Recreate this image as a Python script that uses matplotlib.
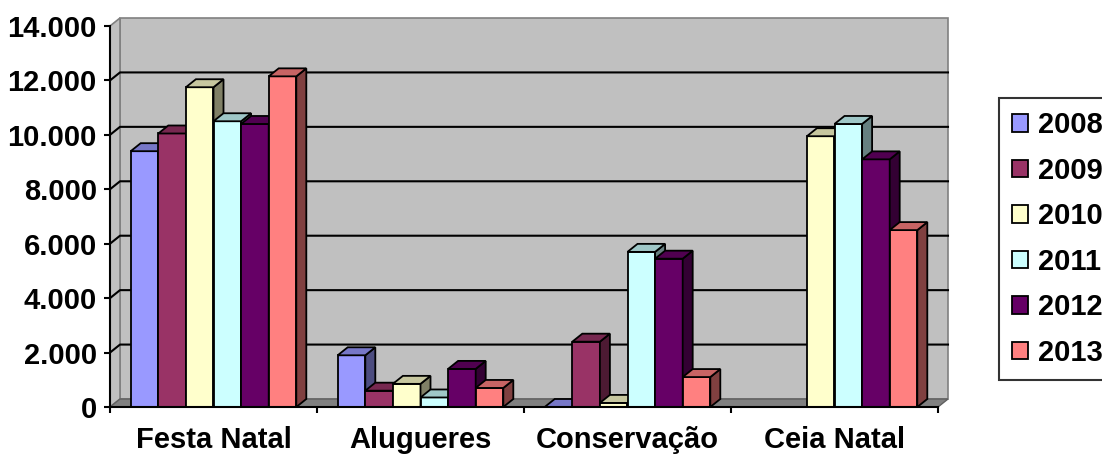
import numpy as np
import matplotlib
matplotlib.use("Agg")
from matplotlib import pyplot as plt
from matplotlib.patches import Polygon, Patch
from matplotlib.ticker import FuncFormatter, FixedLocator

plt.rcParams['font.family'] = ['Liberation Sans', 'DejaVu Sans']
plt.rcParams['font.weight'] = 'bold'

categories = ['Festa Natal', 'Alugueres', 'Conservação', 'Ceia Natal']
years = ['2008', '2009', '2010', '2011', '2012', '2013']
v2008 = [9400, 1900, 0, np.nan]
v2009 = [10050, 600, 2400, np.nan]
v2010 = [11750, 850, 150, 9950]
v2011 = [10500, 350, 5700, 10400]
v2012 = [10400, 1400, 5450, 9100]
v2013 = [12150, 700, 1100, 6500]
series = [v2008, v2009, v2010, v2011, v2012, v2013]
colors = ['#9999FF', '#993366', '#FFFFCC', '#CCFFFF', '#660066', '#FF8080']
y_ticks = list(range(0, 14001, 2000))

W, H = 1102, 454
fig = plt.figure(figsize=(W / 100, H / 100), dpi=100)
ax = fig.add_axes([110 / W, 47 / H, 828 / W, 381 / H])
ax.set_xlim(0, 4)
ax.set_ylim(0, 14000)
ax.patch.set_visible(False)

# 3d depth offset in data units
DX = 10 / 828 * 4
DY = 8 / 381 * 14000


def shade(c, f):
    rgb = np.array(matplotlib.colors.to_rgb(c)) * f
    return tuple(rgb)


# walls and floor
ax.add_patch(Polygon([(DX, DY), (4 + DX, DY), (4 + DX, 14000 + DY), (DX, 14000 + DY)],
                     closed=True, fc='#C0C0C0', ec='#808080', lw=1.2, clip_on=False, zorder=0.5))
ax.add_patch(Polygon([(0, 0), (DX, DY), (DX, 14000 + DY), (0, 14000)],
                     closed=True, fc='#C0C0C0', ec='#808080', lw=1.2, clip_on=False, zorder=0.6))
ax.add_patch(Polygon([(0, 0), (4, 0), (4 + DX, DY), (DX, DY)],
                     closed=True, fc='#808080', ec='#606060', lw=1.0, clip_on=False, zorder=0.7))
for v in y_ticks[1:-1]:
    ax.plot([0, DX, 4 + DX], [v, v + DY, v + DY], color='black', lw=1.5,
            clip_on=False, zorder=0.8)

# bars
bw = 0.8 / 6
x = np.arange(4) + 0.5
z = 2
for j, (vals, col) in enumerate(zip(series, colors)):
    vals = np.array(vals, dtype=float)
    ok = ~np.isnan(vals)
    bars = ax.bar(x[ok] + (j - 2.5) * bw, vals[ok], width=bw, color=col,
                  edgecolor='black', linewidth=1.3, zorder=z + j * 3, clip_on=False)
    for b in bars:
        x0, w, h = b.get_x(), b.get_width(), b.get_height()
        top = [(x0, h), (x0 + w, h), (x0 + w + DX, h + DY), (x0 + DX, h + DY)]
        side = [(x0 + w, 0), (x0 + w + DX, DY), (x0 + w + DX, h + DY), (x0 + w, h)]
        ax.add_patch(Polygon(side, closed=True, fc=shade(col, 0.5), ec='black',
                             lw=1.3, clip_on=False, zorder=z + j * 3 + 1))
        ax.add_patch(Polygon(top, closed=True, fc=shade(col, 0.78), ec='black',
                             lw=1.3, clip_on=False, zorder=z + j * 3 + 2))

# axes
for s in ['top', 'right']:
    ax.spines[s].set_visible(False)
for s in ['left', 'bottom']:
    ax.spines[s].set_linewidth(1.5)
    ax.spines[s].set_zorder(40)
ax.set_yticks(y_ticks)
ax.yaxis.set_major_formatter(FuncFormatter(lambda v, p: f"{int(v):,}".replace(",", ".")))
ax.tick_params(axis='y', length=4.5, width=1.5, pad=5, labelsize=21)
ax.xaxis.set_major_locator(FixedLocator([0, 1, 2, 3, 4]))
ax.xaxis.set_minor_locator(FixedLocator(list(x)))
ax.set_xticklabels([], minor=False)
ax.set_xticklabels(categories, minor=True)
ax.tick_params(axis='x', which='major', length=4.5, width=1.5)
ax.tick_params(axis='x', which='minor', length=0, pad=14, labelsize=21)

handles = [Patch(facecolor=c, edgecolor='black', linewidth=1.3) for c in colors]
leg = fig.legend(handles, years, loc='upper left', bbox_to_anchor=(999 / W, 1 - 98 / H),
                 bbox_transform=fig.transFigure, fontsize=21, frameon=True, fancybox=False,
                 borderaxespad=0, borderpad=0.45, labelspacing=0.6, handlelength=0.55,
                 handleheight=0.55, handletextpad=0.35)
leg.get_frame().set_edgecolor('black')
leg.get_frame().set_linewidth(1.5)

fig.savefig('out.png', dpi=100)
